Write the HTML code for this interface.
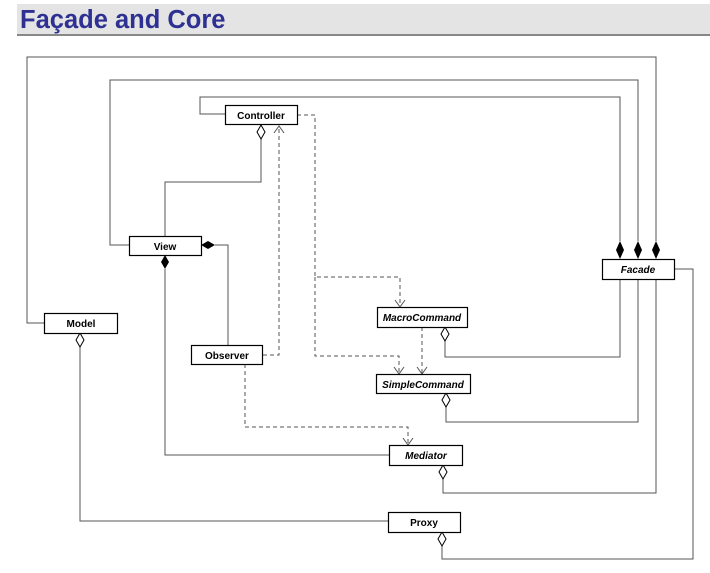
<!DOCTYPE html>
<html><head><style>
body{margin:0;background:#fff;width:710px;height:573px;overflow:hidden}
svg{display:block}
text{font-family:"Liberation Sans",Arial,sans-serif;font-weight:bold;font-size:10px;fill:#000}
</style></head><body>
<svg width="710" height="573" viewBox="0 0 710 573" xmlns="http://www.w3.org/2000/svg">
<rect x="17" y="4" width="693" height="31" fill="#e4e4e4"/>
<rect x="17" y="34" width="693" height="2" fill="#888"/>
<text x="20" y="28" style="font-size:25.5px;fill:#2e3192;font-weight:bold">Façade and Core</text>
<g fill="none" stroke="#555" stroke-width="1">
<polyline points="44,323 27,323 27,57 656,57 656,241"/>
<polyline points="129,245 110,245 110,80 638,80 638,241"/>
<polyline points="225,114 200,114 200,97 620,97 620,241"/>
<polyline points="620,279 620,357 445,357 445,341"/>
<polyline points="638,279 638,422 446,422 446,407"/>
<polyline points="656,279 656,493 443,493 443,479"/>
<polyline points="674,269 693,269 693,559 442,559 442,546"/>
<polyline points="261,139 261,182 165,182 165,236"/>
<polyline points="215,245 228,245 228,346"/>
<polyline points="165,269 165,455 389,455"/>
<polyline points="80,347 80,521 388,521"/>
</g>
<g fill="none" stroke="#555" stroke-width="1" stroke-dasharray="4,3">
<polyline points="297,115 315,115 315,277 400,277 400,307"/>
<polyline points="315,277 315,356 399,356 399,374"/>
<polyline points="263,355 279,355 279,126"/>
<polyline points="245,364 245,427 408,427 408,445"/>
<polyline points="422,327 422,374"/>
</g>
<g fill="none" stroke="#555" stroke-width="1">
<polyline points="395,300 400,307 405,300"/>
<polyline points="394,367 399,374 404,367"/>
<polyline points="417,367 422,374 427,367"/>
<polyline points="403,438 408,445 413,438"/>
<polyline points="274,133 279,126 284,133"/>
</g>
<g fill="#fff" stroke="#000" stroke-width="1">
<polygon points="261,125 265,132 261,139 257,132"/>
<polygon points="445,327 449,334 445,341 441,334"/>
<polygon points="446,393 450,400 446,407 442,400"/>
<polygon points="443,465 447,472 443,479 439,472"/>
<polygon points="442,532 446,539 442,546 438,539"/>
<polygon points="80,333 84,340 80,347 76,340"/>
</g>
<g fill="#000">
<polygon points="620,241 624,250 620,259 616,250"/>
<polygon points="638,241 642,250 638,259 634,250"/>
<polygon points="656,241 660,250 656,259 652,250"/>
<polygon points="201,245 208,241 215,245 208,249"/>
<polygon points="165,255 169,262 165,269 161,262"/>
</g>
<g fill="#fff" stroke="#000" stroke-width="1.2">
<rect x="225.5" y="105.5" width="72" height="19"/>
<rect x="129.5" y="236.5" width="72" height="19"/>
<rect x="44.5" y="313.5" width="73" height="20"/>
<rect x="191.5" y="345.5" width="71" height="19"/>
<rect x="377.5" y="307.5" width="90" height="20"/>
<rect x="376.5" y="374.5" width="94" height="19"/>
<rect x="389.5" y="445.5" width="73" height="20"/>
<rect x="388.5" y="512.5" width="72" height="20"/>
<rect x="602.5" y="259.5" width="72" height="20"/>
</g>
<g text-anchor="middle">
<text x="261" y="119">Controller</text>
<text x="165" y="250">View</text>
<text x="81" y="327">Model</text>
<text x="227" y="359">Observer</text>
<text x="422" y="321" font-style="italic">MacroCommand</text>
<text x="423" y="388" font-style="italic">SimpleCommand</text>
<text x="426" y="459" font-style="italic">Mediator</text>
<text x="424" y="526">Proxy</text>
<text x="638" y="273" font-style="italic">Facade</text>
</g>
</svg>
</body></html>
